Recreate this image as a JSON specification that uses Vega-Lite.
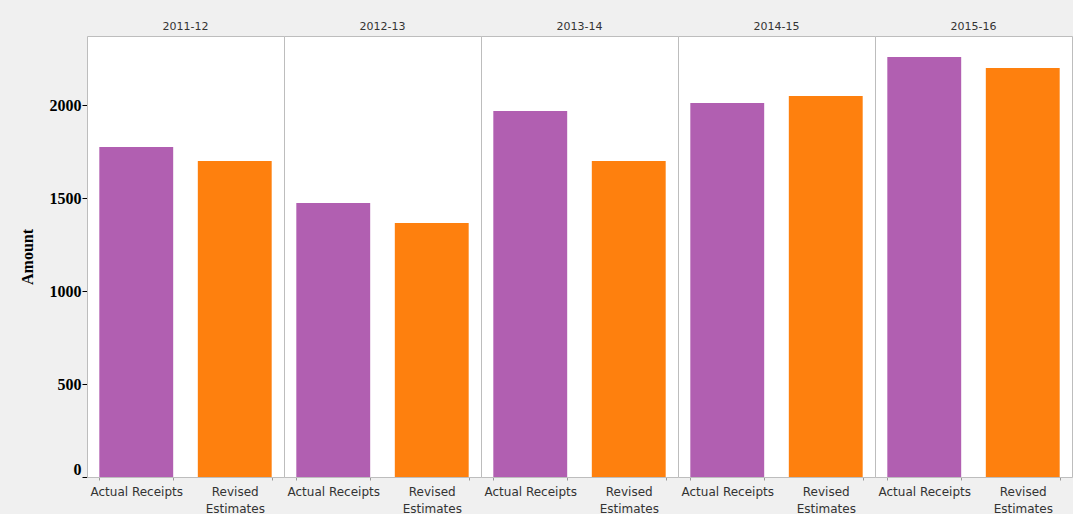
{
  "$schema": "https://vega.github.io/schema/vega-lite/v6.json",
  "background": "#f0f0f0",
  "padding": {"left": 19, "top": 21, "right": 0, "bottom": 0},
  "autosize": {"type": "pad"},
  "bounds": "flush",
  "data": {"values": [
    {"year": "2011-12", "type": "Actual Receipts", "amount": 1774},
    {"year": "2011-12", "type": "Revised Estimates", "amount": 1699},
    {"year": "2012-13", "type": "Actual Receipts", "amount": 1473},
    {"year": "2012-13", "type": "Revised Estimates", "amount": 1366},
    {"year": "2013-14", "type": "Actual Receipts", "amount": 1968},
    {"year": "2013-14", "type": "Revised Estimates", "amount": 1699},
    {"year": "2014-15", "type": "Actual Receipts", "amount": 2011},
    {"year": "2014-15", "type": "Revised Estimates", "amount": 2048},
    {"year": "2015-16", "type": "Actual Receipts", "amount": 2258},
    {"year": "2015-16", "type": "Revised Estimates", "amount": 2199}
  ]},
  "spacing": 0,
  "facet": {
    "column": {
      "field": "year", "type": "ordinal", "title": null,
      "header": {"labelFont": "DejaVu Sans", "labelFontSize": 11, "labelColor": "#333333", "labelPadding": 4}
    }
  },
  "spec": {
    "width": 197,
    "height": 441,
    "mark": {"type": "bar"},
    "encoding": {
      "x": {
        "field": "type", "type": "nominal", "title": null,
        "scale": {"paddingInner": 0.25, "paddingOuter": 0.125},
        "axis": {
          "labelAngle": 0, "labelFont": "DejaVu Sans", "labelFontSize": 12, "labelColor": "#333333",
          "labelExpr": "datum.value == 'Revised Estimates' ? ['Revised', 'Estimates'] : datum.value",
          "labelLineHeight": 17, "labelPadding": 6, "domain": false,
          "tickBand": "extent", "tickSize": 3, "tickColor": "#999999"
        }
      },
      "y": {
        "field": "amount", "type": "quantitative", "title": "Amount",
        "scale": {"domain": [0, 2371], "nice": false},
        "axis": {
          "values": [0, 500, 1000, 1500, 2000], "format": "d", "grid": false, "domain": false,
          "labelFont": "Liberation Serif", "labelFontSize": 16, "labelFontWeight": "bold", "labelColor": "#000000",
          "labelFlush": true, "labelPadding": 1,
          "tickSize": 5, "tickColor": "#000000",
          "titleFont": "Liberation Serif", "titleFontSize": 16, "titleFontWeight": "bold", "titleColor": "#000000",
          "titlePadding": 14
        }
      },
      "color": {
        "field": "type", "type": "nominal", "legend": null,
        "scale": {"domain": ["Actual Receipts", "Revised Estimates"], "range": ["#b15fb1", "#fe800e"]}
      }
    }
  },
  "config": {"view": {"fill": "white", "stroke": "#bdbdbd"}, "facet": {"spacing": 0}}
}
